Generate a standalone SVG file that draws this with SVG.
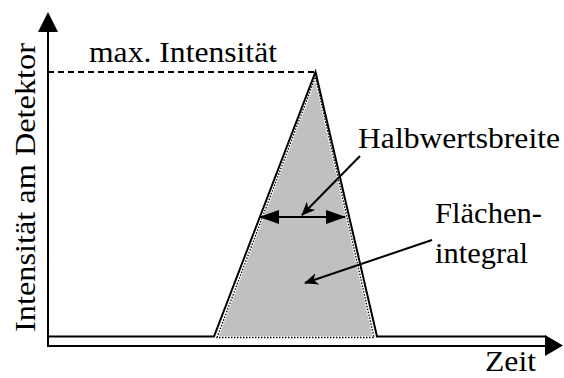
<svg xmlns="http://www.w3.org/2000/svg" width="564" height="378" viewBox="0 0 564 378">
<style>
text{font-family:"Liberation Serif","Times New Roman",serif;font-size:30px;fill:#000}
.ln{stroke:#000;stroke-width:2;fill:none}
</style>
<defs>
<marker id="dart" viewBox="0 0 14 12" refX="13" refY="6" markerWidth="14" markerHeight="12" markerUnits="userSpaceOnUse" orient="auto">
<path d="M0,0 L14,6 L0,12 L4,6 z" fill="#000"/>
</marker>
<marker id="tri" viewBox="0 0 20 14" refX="19" refY="7" markerWidth="20" markerHeight="14" markerUnits="userSpaceOnUse" orient="auto-start-reverse">
<path d="M0,0 L20,7 L0,14 z" fill="#000"/>
</marker>
</defs>
<g id="peak">
<polygon points="217,337.5 315.5,77 374,337.5" fill="#c0c0c0" stroke="#fff" stroke-width="2.5"/>
<polygon points="217,337.5 315.5,77 374,337.5" fill="none" stroke="#000" stroke-width="1.3" stroke-dasharray="1.5 1.5"/>
<polyline class="ln" points="48,336.5 214,336.5 315.5,72 377,336.5 546,336.5" stroke-width="1.8"/>
</g>
<g id="axes">
<line class="ln" x1="48" y1="30" x2="48" y2="347"/>
<polygon points="48,12 38,32 58,32" fill="#000"/>
<line class="ln" x1="47" y1="346" x2="546" y2="346" stroke-width="2.2"/>
<polygon points="563,345.5 545,335 545,356" fill="#000"/>
</g>
<g id="connectors">
<line class="ln" x1="48" y1="72" x2="315" y2="72" stroke-dasharray="6 4"/>
<line class="ln" x1="260" y1="217" x2="345" y2="217" marker-start="url(#tri)" marker-end="url(#tri)"/>
<line class="ln" x1="360" y1="156" x2="302" y2="215" marker-end="url(#dart)"/>
<line class="ln" x1="432" y1="240" x2="305" y2="283" marker-end="url(#dart)"/>
</g>
<g id="labels">
<text x="89" y="62" textLength="188" lengthAdjust="spacingAndGlyphs">max. Intensität</text>
<text x="358" y="148" textLength="202" lengthAdjust="spacingAndGlyphs">Halbwertsbreite</text>
<text x="435" y="223" textLength="107" lengthAdjust="spacingAndGlyphs">Flächen-</text>
<text x="435" y="263" textLength="93" lengthAdjust="spacingAndGlyphs">integral</text>
<text x="485" y="371" textLength="51" lengthAdjust="spacingAndGlyphs">Zeit</text>
<text transform="translate(35,187.5) rotate(-90)" text-anchor="middle" textLength="289" lengthAdjust="spacingAndGlyphs">Intensität am Detektor</text>
</g>
</svg>
